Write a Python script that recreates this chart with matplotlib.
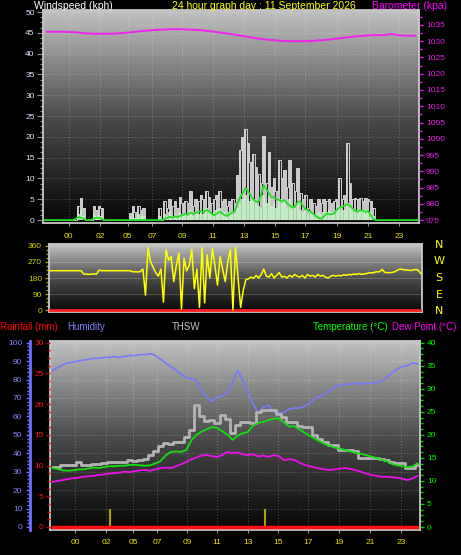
import numpy as np
import matplotlib
matplotlib.use('Agg')
import matplotlib.pyplot as plt
from matplotlib.ticker import MultipleLocator, FixedLocator
from matplotlib.colors import LinearSegmentedColormap

# ---------------- data ----------------
hour_ticks = [1.65, 3.65, 5.4, 6.95, 8.9, 10.85, 12.85, 14.8, 16.75, 18.75, 20.75, 22.75]
hour_labels = ['00', '02', '05', '07', '09', '11', '13', '15', '17', '19', '21', '23']

# wind gust (kph), 10-minute samples
wind_gust = ([0]*13 + [3.5, 5.3, 3.0] + [0]*3 + [3.4, 2.5, 3.4, 3.0] + [0]*10 + [1.7] +
             [3.4, 2.0, 3.4, 2.5, 3.0] + [0]*5 + [3.0] + [0] +
             [4.5, 3, 5, 3.5, 4.5, 3, 5.5, 4, 4.5, 4, 7, 3.5, 5, 4.5, 6, 5, 7, 5.5, 4, 5, 6, 7, 4.5, 5,
              3.5, 4.5, 5, 4] +
             [10.8, 16.8, 20.0, 21.9, 18.5, 14, 16, 12.7, 11, 9, 20.2, 9, 16.4, 8, 10, 7, 14.4, 10, 12, 8,
              14.5, 9, 7, 12.5, 6.5, 5, 6, 3, 5, 4, 3.5, 5, 4, 5, 4.5, 5, 4, 4.5, 5, 10, 5, 6, 18.5, 9, 5,
              5.3, 5, 5.3, 4.5, 5.3, 5, 4.5, 3] + [0]*17)
# wind speed (kph), 10-minute samples
wind_speed = ([0]*13 + [1.5, 2.5, 1] + [0]*3 + [1.5, 1, 1.5, 1] + [0]*10 + [0.5] +
              [1.5, 0.5, 1.5, 1, 1] + [0]*5 + [1] + [0] +
              [1.5, 1, 2, 1, 1.5, 1, 2, 1.5, 1.5, 1, 2.5, 1, 2, 1.5, 2, 1.5, 3, 2, 1.5, 2, 2.5, 3, 1.5, 2,
               1, 2, 2, 1.5] +
              [3, 4, 5, 6, 5, 4.5, 5, 4, 3.5, 3, 6, 4, 5.5, 3.5, 4, 3, 5, 4, 4.5, 3, 5, 3.5, 3, 4, 2.5, 2,
               2.5, 1.5, 2, 1.5, 1.5, 2, 1.5, 2, 2, 2.5, 2, 2, 2.5, 3.5, 2.5, 2.5, 4, 3, 2.5, 2.5, 2.5, 2.5,
               2, 2.5, 2, 2, 1] + [0]*17)
# average wind (kph), 10-minute samples
wind_avg = ([0]*12 + [0.3, 0.7, 0.6, 0.3] + [0]*3 + [0.4, 0.6, 0.5, 0.3] + [0]*23 +
            [0.3, 0.5, 0.8, 0.6, 0.9, 0.7, 1.0, 1.2, 1.5, 1.3, 1.8, 1.5, 1.7, 2.0, 2.2, 1.8, 2.4, 2.2, 1.6,
             1.2, 1.5, 2.0, 1.7, 1.2, 1.0, 1.4, 1.8, 2.2] +
            [4, 5.5, 6.5, 7.7, 7, 6, 5, 4.5, 4.3, 6, 8.4, 7.5, 6.5, 5.5, 5.5, 5, 4.8, 4.5, 4.8, 4, 3.5, 3,
             3.2, 4.3, 4.5, 3.5, 2.6, 2.4, 2, 1.5, 1, 0.5, 0.3, 0.8, 1.6, 1.4, 1.4, 1.6, 2.5, 3, 3.2, 3.5,
             3.8, 3.5, 2.8, 2.2, 2.0, 2.4, 2.3, 1.9, 2.2, 1.2, 0.3] + [0]*17)
# barometer (hPa), 30-minute samples
barometer = [1032.9, 1032.9, 1032.9, 1032.8, 1032.7, 1032.4, 1032.3, 1032.3, 1032.3, 1032.4, 1032.6,
             1032.8, 1033.1, 1033.3, 1033.5, 1033.6, 1033.7, 1033.7, 1033.6, 1033.5, 1033.3, 1033.0,
             1032.7, 1032.4, 1032.0, 1031.6, 1031.2, 1030.8, 1030.5, 1030.3, 1030.1, 1030.0, 1030.0,
             1030.0, 1030.1, 1030.3, 1030.5, 1030.8, 1031.1, 1031.4, 1031.6, 1031.8, 1031.9, 1031.9,
             1032.2, 1031.8, 1031.7, 1031.7]
# wind direction (deg), 10-minute samples
wind_dir = ([221]*13 + [202, 202, 200, 202, 203, 202, 224] + [221]*12 + [215, 215, 214, 216] +
            [230, 84, 350, 270, 240, 210, 190, 230, 45, 340, 280, 300, 160, 250, 320, 5, 290, 220, 250,
             340, 120, 230, 15, 350, 40, 310, 180, 345, 250, 140, 300, 230, 160, 270, 340, 0, 355, 180,
             15, 110, 170] +
            [175, 185, 178, 195, 180, 200, 230, 190, 185, 205, 180, 195, 210, 185] +
            [190, 180, 195, 185, 200, 190, 185, 195, 180, 200, 190, 195, 185, 200, 190, 195, 185, 180,
             190, 195] +
            [190, 195, 192, 198, 195, 200, 198, 202, 200, 205, 200, 203, 205] +
            [210, 208, 212, 215, 215, 228, 212, 210, 210, 212, 215, 225, 230, 228, 225, 225, 222, 225,
             228, 225, 205])
# 20-minute samples for the lower panel
humidity = [85, 86.5, 88, 89, 89.5, 90, 90.5, 91, 91.5, 91.5, 92, 92, 92.5, 92, 92.5, 93, 93, 93.5,
            93.5, 94, 93, 91, 89, 87, 85, 83, 81, 80.5, 79.5, 74, 70.5, 68, 70.5, 71, 73, 78, 85, 80,
            73, 67, 62, 65, 66, 62.5, 62, 62, 64, 64.5, 64.5, 65.5, 67, 69.5, 71, 72, 74, 76, 77, 77.5,
            77.5, 78, 77.5, 78, 78, 78.5, 79, 81, 83.5, 85.5, 87, 87.5, 89, 88.5]
temperature = [12.8, 12.6, 12.3, 12.2, 12.3, 12.5, 12.5, 12.7, 12.9, 12.8, 13.0, 13.2, 13.2, 13.3,
               13.3, 13.5, 13.5, 13.4, 13.3, 13.4, 13.8, 14.3, 15.5, 16.3, 16.4, 16.3, 16.7, 18.8,
               20.0, 20.7, 21.2, 21.7, 21.5, 20.8, 20.1, 18.9, 19.8, 20.4, 20.6, 22.0, 22.6, 22.8,
               23.2, 23.5, 23.6, 22.8, 21.8, 21.9, 21.2, 20.5, 19.8, 19.2, 18.6, 18.0, 17.6, 17.2,
               17.0, 16.7, 16.4, 16.1, 15.9, 15.6, 15.3, 15.0, 14.6, 14.3, 13.7, 13.4, 13.2, 13.0,
               13.1, 13.8]
dew_point = [9.8, 10.0, 10.2, 10.4, 10.6, 10.7, 10.9, 11.0, 11.1, 11.3, 11.4, 11.6, 11.7, 11.8, 12.0,
             11.9, 12.1, 12.3, 12.4, 12.2, 12.5, 12.8, 12.9, 12.8, 13.2, 13.6, 14.1, 14.7, 15.1, 15.5,
             15.6, 15.4, 15.2, 15.6, 16.3, 16.0, 16.2, 15.8, 15.6, 15.8, 15.3, 15.5, 15.2, 15.6, 15.4,
             14.5, 14.7, 14.6, 14.0, 13.5, 13.2, 12.9, 12.7, 12.5, 12.4, 12.5, 12.7, 12.8, 12.6, 12.3,
             12.0, 11.6, 11.3, 11.1, 10.9, 10.9, 10.8, 10.7, 10.5, 10.2, 10.5, 11.1]
thsw = [13.0, 13.0, 13.5, 13.5, 13.5, 14.0, 13.5, 13.5, 13.6, 13.6, 13.8, 14.0, 14.0, 14.2, 14.2, 14.5,
        14.3, 14.5, 14.8, 15.6, 16.5, 17.5, 18.2, 18.0, 18.5, 18.5, 19.5, 21.1, 26.5, 24.0, 23.0, 23.2,
        22.6, 24.3, 23.5, 20.5, 22.1, 22.8, 22.8, 22.6, 25.0, 25.3, 25.3, 25.5, 24.5, 23.8, 22.8, 22.8,
        22.0, 21.7, 21.7, 20.0, 19.2, 18.5, 17.8, 17.8, 16.7, 16.7, 16.7, 16.5, 15.0, 15.0, 15.0, 15.0,
        14.8, 14.5, 14.1, 13.9, 13.9, 12.8, 12.8, 13.5]
rainfall = [0.0] * 72
rain_event_hours = [3.9, 13.95]
rain_event_mm = [2.9, 2.9]

# ---------------- helpers ----------------
W, H = 461, 555
fig = plt.figure(figsize=(W / 100, H / 100), dpi=100, facecolor='black')
FONT = 'Liberation Sans'
TICKFS = 6
PX = 72.0 / 100  # points per pixel


def rect(l, t, r, b):
    return [l / W, 1 - b / H, (r - l) / W, (b - t) / H]


def times(n):
    return (np.arange(n) + 0.5) * 24.0 / n


bgcmap = LinearSegmentedColormap.from_list('bg', ['#060606', '#4c4c4c', '#c2c2c2'])
grad = np.linspace(0, 1, 256).reshape(-1, 1)


def background(r):
    bg = fig.add_axes(r)
    bg.imshow(grad, extent=[0, 1, 0, 1], origin='lower', aspect='auto', cmap=bgcmap)
    bg.set_xlim(0, 1)
    bg.set_ylim(0, 1)
    bg.axis('off')
    return bg


def clean(ax):
    ax.set_facecolor('none')
    ax.set_xlim(0, 24)
    for s in ax.spines.values():
        s.set_visible(False)


def frame(ax):
    for s in ax.spines.values():
        s.set_visible(True)
        s.set_color('#c8c8c8')
        s.set_linewidth(1.3)


def tlabels(ax, axis, color):
    lab = ax.get_yticklabels() if axis == 'y' else ax.get_xticklabels()
    for t in lab:
        t.set_fontfamily(FONT)
        t.set_fontsize(TICKFS)
        t.set_color(color)


# ================= Panel 1: wind + barometer =================
r1 = rect(43, 10, 419, 223)
background(r1)
ax1 = fig.add_axes(r1)
clean(ax1)
frame(ax1)
ax1.set_ylim(-0.7, 50.5)
tw = times(len(wind_gust))
ax1.bar(tw, wind_gust, width=0.8 * 24.0 / len(wind_gust), color='#f4f4f4', alpha=0.8, linewidth=0,
        zorder=2)
ax1.step(tw, wind_gust, where='mid', color='#d0d0d0', lw=0.7, zorder=2)
ax1.bar(times(len(wind_speed)), wind_speed, width=24.0 / len(wind_speed), color='#c6f2c6',
        alpha=0.85, linewidth=0, zorder=3)
ax1.plot(times(len(wind_avg)), wind_avg, color='#22dd22', lw=1.3, zorder=4)
ax1.yaxis.set_major_locator(MultipleLocator(5))
ax1.yaxis.set_minor_locator(MultipleLocator(1.25))
ax1.xaxis.set_major_locator(FixedLocator(hour_ticks))
ax1.set_xticklabels(hour_labels)
ax1.tick_params(axis='y', which='major', direction='out', length=4.5, width=0.8, color='#909090', pad=1.5)
ax1.tick_params(axis='y', which='minor', direction='out', length=2.2, width=0.8, color='#909090')
ax1.tick_params(axis='x', which='major', direction='out', length=2, width=0.8, color='#909090', pad=5.2)
tlabels(ax1, 'y', '#d8e8ff')
tlabels(ax1, 'x', '#e6e600')
ax1.grid(True, which='major', color='#ffffff', alpha=0.22, ls=':', lw=0.8)

axb = fig.add_axes(r1)
clean(axb)
axb.set_ylim(974.1, 1039.6)
axb.plot(times(len(barometer)), barometer, color='#f020f0', lw=1.4, zorder=5)
axb.yaxis.tick_right()
axb.yaxis.set_major_locator(MultipleLocator(5))
axb.yaxis.set_minor_locator(MultipleLocator(2.5))
axb.set_xticks([])
axb.tick_params(axis='y', which='major', direction='out', length=3, width=1, color='#e020e0', pad=2)
axb.tick_params(axis='y', which='minor', direction='out', length=2, width=1, color='#e020e0')
tlabels(axb, 'y', '#e020e0')

# ================= Panel 2: wind direction =================
r2 = rect(49, 244, 422, 312)
background(r2)
ax2 = fig.add_axes(r2)
clean(ax2)
frame(ax2)
ax2.set_ylim(-11, 371)
ax2.axhline(0, color='#ff2020', lw=2, zorder=3)
ax2.plot(times(len(wind_dir)), wind_dir, color='#ffff00', lw=1.1, zorder=4)
ax2.yaxis.set_major_locator(FixedLocator([0, 90, 180, 270, 360]))
ax2.yaxis.set_minor_locator(MultipleLocator(22.5))
ax2.set_xticks([])
ax2.tick_params(axis='y', which='major', direction='out', length=3, width=1, color='#a0a000', pad=2)
ax2.tick_params(axis='y', which='minor', direction='out', length=2, width=1, color='#a0a000')
tlabels(ax2, 'y', '#d0d000')
ax2.grid(True, axis='y', which='major', color='#ffffff', alpha=0.22, ls='-', lw=0.6)
for lab, yy in zip(['N', 'W', 'S', 'E', 'N'], [245, 261, 278, 295, 311]):
    fig.text(439 / W, 1 - yy / H, lab, color='#ffff00', fontsize=8, fontfamily='DejaVu Sans',
             ha='center', va='center')

# ================= Panel 3: temperature / humidity / rain =================
r3 = rect(50, 341, 420, 530)
background(r3)
t3 = times(len(temperature))

axh = fig.add_axes(r3)
clean(axh)
axh.set_ylim(-1.63, 100.9)
axh.plot(times(len(humidity)), humidity, color='#7878ff', lw=1.2, zorder=2)
axh.spines['left'].set_visible(True)
axh.spines['left'].set_position(('outward', 20 * PX))
axh.spines['left'].set_color('#7070ff')
axh.spines['left'].set_linewidth(2)
axh.yaxis.set_major_locator(MultipleLocator(10))
axh.yaxis.set_minor_locator(MultipleLocator(2))
axh.set_xticks([])
axh.tick_params(axis='y', which='major', direction='out', length=3, width=1, color='#7070ff', pad=2.5)
axh.tick_params(axis='y', which='minor', direction='out', length=2, width=1, color='#7070ff')
tlabels(axh, 'y', '#8080ff')
axh.grid(True, axis='y', which='major', color='#ffffff', alpha=0.22, ls=':', lw=0.8)

axt = fig.add_axes(r3)
clean(axt)
frame(axt)
axt.set_ylim(-0.65, 40.37)
axt.plot(times(len(thsw)), thsw, color='#b4b4b4', lw=2.0, drawstyle='steps-mid', zorder=3)
axt.plot(t3, temperature, color='#10e010', lw=1.3, zorder=4)
axt.plot(times(len(dew_point)), dew_point, color='#ee10ee', lw=1.3, zorder=5)
axt.yaxis.tick_right()
axt.yaxis.set_major_locator(MultipleLocator(5))
axt.yaxis.set_minor_locator(MultipleLocator(1.25))
axt.xaxis.set_major_locator(FixedLocator(hour_ticks))
axt.set_xticklabels(hour_labels)
axt.tick_params(axis='y', which='major', direction='out', length=3, width=1, color='#00d000', pad=2)
axt.tick_params(axis='y', which='minor', direction='out', length=2, width=1, color='#00d000')
axt.tick_params(axis='x', which='major', direction='out', length=2, width=0.8, color='#909090', pad=4.5)
tlabels(axt, 'y', '#00ee00')
tlabels(axt, 'x', '#e6e600')
axt.grid(True, axis='x', which='major', color='#ffffff', alpha=0.22, ls=':', lw=0.8)

axr = fig.add_axes(r3)
clean(axr)
axr.set_ylim(-0.49, 30.28)
axr.plot(times(len(rainfall)), rainfall, color='#ff1010', lw=2.5, zorder=6)
axr.vlines(rain_event_hours, 0, rain_event_mm, color='#b0a000', lw=1.5, zorder=5)
axr.yaxis.set_major_locator(MultipleLocator(5))
axr.yaxis.set_minor_locator(MultipleLocator(1.25))
axr.set_xticks([])
axr.tick_params(axis='y', which='major', direction='out', length=3, width=1, color='#d00000', pad=1.5)
axr.tick_params(axis='y', which='minor', direction='out', length=2, width=1, color='#d00000')
tlabels(axr, 'y', '#ff1010')

# ================= titles =================
def header(x, y, s, color, ha='left', fs=7.5):
    fig.text(x / W, 1 - y / H, s, color=color, fontsize=fs, fontfamily=FONT, ha=ha, va='center')

header(34, 6, 'Windspeed (kph)', '#ffffff')
header(172, 6, '24 hour graph day : 11 September 2026', '#ffff00')
header(372, 6, 'Barometer (kpa)', '#ff00ff')
header(0, 327, 'Rainfall (mm)', '#ff0000', fs=7)
header(67, 327, 'Humidity', '#8080ff', fs=7)
header(172, 327, 'THSW', '#c0c0c0', fs=7)
header(313, 327, 'Temperature (°C)', '#00ff00', fs=7)
header(392, 327, 'Dew Point (°C)', '#ff00ff', fs=7)

fig.savefig('out.png', dpi=100, facecolor='black')
